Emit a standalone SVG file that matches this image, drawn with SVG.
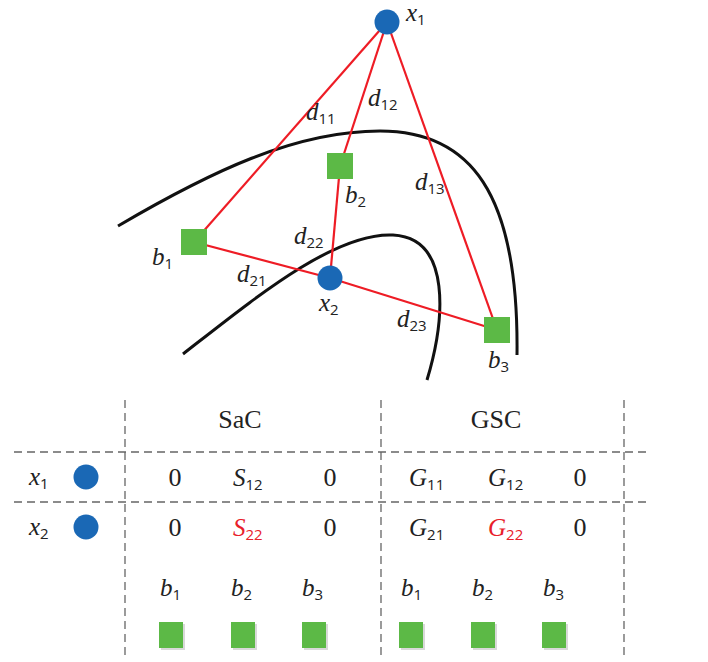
<svg xmlns="http://www.w3.org/2000/svg" width="708" height="662" viewBox="0 0 708 662">
<style>
.bg{fill:#ffffff}
.red{stroke:#ee1c25;stroke-width:2.2;fill:none}
.curve{stroke:#111111;stroke-width:3;fill:none;stroke-linecap:butt}
.blue{fill:#1a68b5}
.green{fill:#5cb946}
.shadow{fill:#d9d9d9}
.v{font-family:"Liberation Serif",serif;font-style:italic;font-size:25px;fill:#222}
.s{font-family:"Open Sans","Liberation Sans",sans-serif;font-style:normal;font-size:15px}
.n{font-family:"Liberation Serif",serif;font-size:26px;fill:#222}
.h{font-family:"Liberation Serif",serif;font-size:26px;fill:#222}
.hl{fill:#e8202a}
.dash{stroke:#666;stroke-width:1.3;stroke-dasharray:8 5;fill:none}
</style>
<rect class="bg" x="0" y="0" width="708" height="662"/>
<g id="boundaries">
<path class="curve" d="M118,226 C210,172 295,131 380,131 C470,131 519,192 517,355"/>
<path class="curve" d="M183,354 C255,298 335,232 393,235 C452,238 445,320 427,380"/>
</g>
<g id="connectors">
<line class="red" x1="387" y1="22" x2="194" y2="242"/>
<line class="red" x1="387" y1="22" x2="340" y2="166"/>
<line class="red" x1="387" y1="22" x2="497" y2="330"/>
<line class="red" x1="340" y1="166" x2="330" y2="278"/>
<line class="red" x1="194" y1="242" x2="330" y2="278"/>
<line class="red" x1="330" y1="278" x2="497" y2="330"/>
</g>
<g id="x1"><circle class="blue" cx="387" cy="22" r="12.5"/><text class="v" x="406" y="21" font-size="24">x<tspan class="s" dy="4">1</tspan></text></g>
<g id="b2"><rect class="green" x="327" y="153" width="26" height="26"/><text class="v" x="345" y="203">b<tspan class="s" dy="4">2</tspan></text></g>
<g id="b1"><rect class="green" x="181" y="229" width="26" height="26"/><text class="v" x="152" y="265">b<tspan class="s" dy="4">1</tspan></text></g>
<g id="x2"><circle class="blue" cx="330" cy="278" r="12.5"/><text class="v" x="319" y="311">x<tspan class="s" dy="4">2</tspan></text></g>
<g id="b3"><rect class="green" x="484" y="317" width="26" height="26"/><text class="v" x="488" y="368">b<tspan class="s" dy="4">3</tspan></text></g>
<g id="edge-labels">
<text class="v" x="306" y="120">d<tspan class="s" dy="4">11</tspan></text>
<text class="v" x="368" y="106">d<tspan class="s" dy="4">12</tspan></text>
<text class="v" x="415" y="190">d<tspan class="s" dy="4">13</tspan></text>
<text class="v" x="294" y="244">d<tspan class="s" dy="4">22</tspan></text>
<text class="v" x="237" y="282">d<tspan class="s" dy="4">21</tspan></text>
<text class="v" x="397" y="327">d<tspan class="s" dy="4">23</tspan></text>
</g>
<g id="table-grid">
<line class="dash" x1="125" y1="400" x2="125" y2="660"/>
<line class="dash" x1="381" y1="400" x2="381" y2="660"/>
<line class="dash" x1="624" y1="400" x2="624" y2="660"/>
<line class="dash" x1="14" y1="452" x2="651" y2="452"/>
<line class="dash" x1="14" y1="502" x2="651" y2="502"/>
</g>
<g id="table-header">
<text class="h" x="240" y="428" text-anchor="middle">SaC</text>
<text class="h" x="496" y="428" text-anchor="middle">GSC</text>
</g>
<g id="row-x1">
<text class="v" x="29" y="485">x<tspan class="s" dy="4">1</tspan></text>
<circle class="blue" cx="86" cy="477" r="12.5"/>
<text class="n" x="175" y="486" text-anchor="middle">0</text>
<text class="v" x="233" y="486">S<tspan class="s" dy="4">12</tspan></text>
<text class="n" x="330" y="486" text-anchor="middle">0</text>
<text class="v" x="409" y="486">G<tspan class="s" dy="4">11</tspan></text>
<text class="v" x="488" y="486">G<tspan class="s" dy="4">12</tspan></text>
<text class="n" x="580" y="486" text-anchor="middle">0</text>
</g>
<g id="row-x2">
<text class="v" x="29" y="535">x<tspan class="s" dy="4">2</tspan></text>
<circle class="blue" cx="86" cy="527" r="12.5"/>
<text class="n" x="175" y="536" text-anchor="middle">0</text>
<text class="v hl" x="233" y="536">S<tspan class="s" dy="4">22</tspan></text>
<text class="n" x="330" y="536" text-anchor="middle">0</text>
<text class="v" x="409" y="536">G<tspan class="s" dy="4">21</tspan></text>
<text class="v hl" x="488" y="536">G<tspan class="s" dy="4">22</tspan></text>
<text class="n" x="580" y="536" text-anchor="middle">0</text>
</g>
<g id="row-b">
<text class="v" x="160" y="596">b<tspan class="s" dy="4">1</tspan></text>
<text class="v" x="231" y="596">b<tspan class="s" dy="4">2</tspan></text>
<text class="v" x="302" y="596">b<tspan class="s" dy="4">3</tspan></text>
<text class="v" x="401" y="596">b<tspan class="s" dy="4">1</tspan></text>
<text class="v" x="472" y="596">b<tspan class="s" dy="4">2</tspan></text>
<text class="v" x="543" y="596">b<tspan class="s" dy="4">3</tspan></text>
<rect class="shadow" x="161" y="624" width="24" height="26"/><rect class="green" x="159" y="622" width="24" height="26"/>
<rect class="shadow" x="233" y="624" width="24" height="26"/><rect class="green" x="231" y="622" width="24" height="26"/>
<rect class="shadow" x="304" y="624" width="24" height="26"/><rect class="green" x="302" y="622" width="24" height="26"/>
<rect class="shadow" x="401" y="624" width="24" height="26"/><rect class="green" x="399" y="622" width="24" height="26"/>
<rect class="shadow" x="473" y="624" width="24" height="26"/><rect class="green" x="471" y="622" width="24" height="26"/>
<rect class="shadow" x="544" y="624" width="24" height="26"/><rect class="green" x="542" y="622" width="24" height="26"/>
</g>
</svg>
